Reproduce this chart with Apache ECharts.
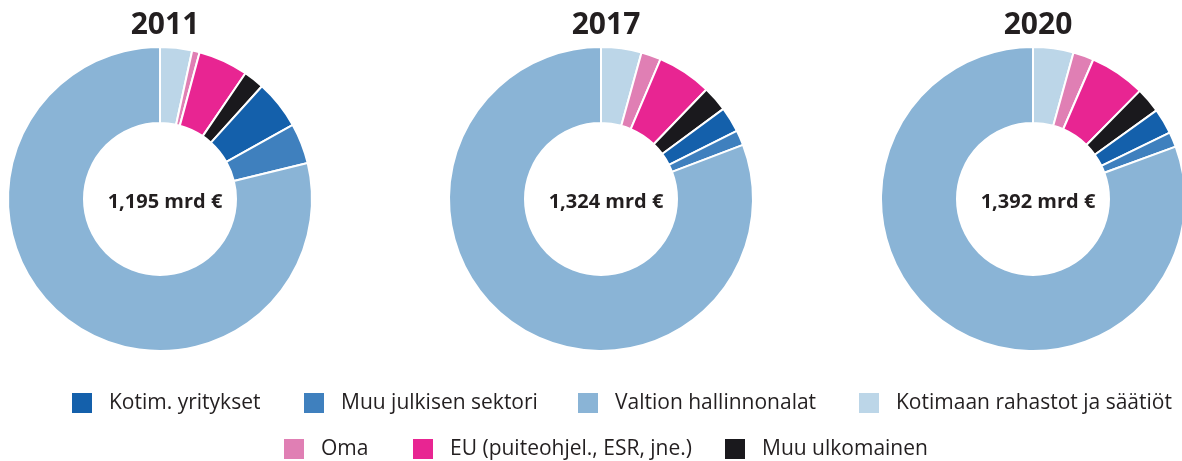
<!DOCTYPE html>
<html>
<head>
<meta charset="utf-8">
<script src="https://cdn.jsdelivr.net/npm/echarts@6/dist/echarts.min.js"></script>
<style>
  html, body { margin: 0; padding: 0; background: #fff; }
  #main { width: 1182px; height: 461px; }
</style>
</head>
<body>
<div id="main"></div>
<script>
// slices clockwise from 12 o'clock
var categories = ['Kotimaan rahastot ja säätiöt', 'Oma', 'EU (puiteohjel., ESR, jne.)', 'Muu ulkomainen', 'Kotim. yritykset', 'Muu julkisen sektori', 'Valtion hallinnonalat'];
var colors = ['#bcd6e8', '#e07fb4', '#e82592', '#1a191d', '#1460ab', '#3f80be', '#8ab4d6'];
var years = ['2011', '2017', '2020'];
var totals = ['1,195 mrd €', '1,324 mrd €', '1,392 mrd €'];
var v2011 = [3.4, 0.8, 5.3, 2.2, 5.2, 4.3, 78.8];
var v2017 = [4.3, 2.1, 5.8, 2.7, 2.7, 1.6, 80.8];
var v2020 = [4.3, 2.2, 5.9, 2.7, 2.7, 1.6, 80.6];
var legendRow1 = ['Kotim. yritykset', 'Muu julkisen sektori', 'Valtion hallinnonalat', 'Kotimaan rahastot ja säätiöt'];
var legendRow2 = ['Oma', 'EU (puiteohjel., ESR, jne.)', 'Muu ulkomainen'];

var centersX = [160, 601, 1033];
var values = [v2011, v2017, v2020];
var font = 'Open Sans';

var series = values.map(function (vals, i) {
    return {
        type: 'pie',
        center: [centersX[i], 199],
        radius: [76, 152],
        startAngle: 90,
        clockwise: true,
        silent: true,
        label: { show: false },
        labelLine: { show: false },
        itemStyle: { borderColor: '#fff', borderWidth: 2 },
        data: vals.map(function (v, k) {
            return { name: categories[k], value: v, itemStyle: { color: colors[k] } };
        })
    };
});

var titles = [];
years.forEach(function (y, i) {
    titles.push({
        text: y, left: centersX[i], top: 5, textAlign: 'center',
        textStyle: { fontFamily: font, fontSize: 30, fontWeight: 'bold', color: '#231f20' }
    });
    titles.push({
        text: totals[i], left: centersX[i], top: 187, textAlign: 'center',
        textStyle: { fontFamily: font, fontSize: 20, fontWeight: 'bold', color: '#231f20' }
    });
});

// one legend per entry so each sits where it does in the original
var row1Left = [70, 302, 576, 857];
var row2Left = [282, 411, 723];
var legendText = { fontFamily: font, fontSize: 21, color: '#231f20', padding: [0, 0, 0, 11] };
var legends = [];
function addLegend(name, left, top) {
    legends.push({
        data: [name], left: left, top: top, padding: 0,
        itemWidth: 22, itemHeight: 22, icon: 'rect',
        selectedMode: false, textStyle: legendText
    });
}
legendRow1.forEach(function (n, i) { addLegend(n, row1Left[i], 391); });
legendRow2.forEach(function (n, i) { addLegend(n, row2Left[i], 437); });

var option = {
    backgroundColor: '#fff',
    animation: false,
    title: titles,
    legend: legends,
    series: series
};

var myChart = echarts.init(document.getElementById('main'));
myChart.setOption(option);
</script>
</body>
</html>
